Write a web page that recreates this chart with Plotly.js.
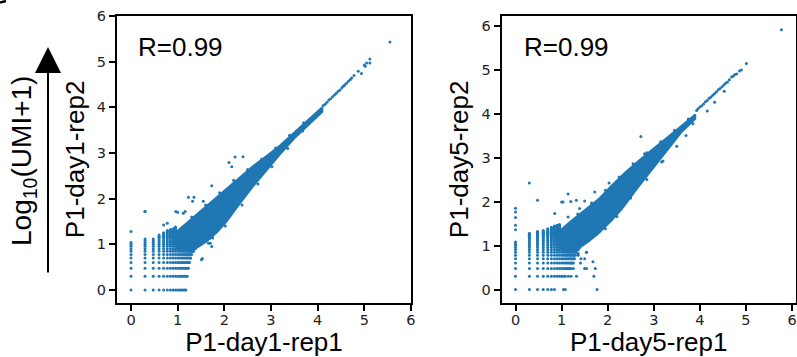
<!DOCTYPE html>
<html>
<head>
<meta charset="utf-8">
<script src="https://cdn.plot.ly/plotly-3.0.1.min.js"></script>
<style>html,body{margin:0;padding:0;background:#fff;}#chart{width:797px;height:357px;}</style>
</head>
<body>
<div id="chart"></div>
<script>
// ---------------- data ----------------
const ticks = [0, 1, 2, 3, 4, 5, 6];
const panelTitlesX = ["P1-day1-rep1", "P1-day5-rep1"];
const panelTitlesY = ["P1-day1-rep2", "P1-day5-rep2"];
const corrLabels = ["R=0.99", "R=0.99"];

// ---- panel 1 : day1 ----
const d1ColX = [0, 0.301, 0.477, 0.602, 0.699, 0.778, 0.845, 0.903, 0.954];
const d1ColY = [
  [0,0.301,0.477,0.602,0.699,0.778,0.845,0.903,0.954,1.0,1.041,1.279],
  [0,0.301,0.477,0.602,0.699,0.778,0.845,0.903,0.954,1.0,1.041,1.079,1.114,1.72],
  [0,0.301,0.477,0.602,0.699,0.778,0.845,0.903,0.954,1.0,1.041,1.079,1.114],
  [0,0.301,0.477,0.602,0.699,0.778,0.845,0.903,0.954,1.0,1.041,1.079,1.114,1.146,1.176,1.204],
  [0,0.301,0.477,0.602,0.699,0.778,0.845,0.903,0.954,1.0,1.041,1.079,1.114,1.146,1.176,1.204,1.230,1.255,1.42],
  [0,0.301,0.477,0.602,0.699,0.778,0.845,0.903,0.954,1.0,1.041,1.079,1.114,1.146,1.176,1.204,1.230,1.255,1.279,1.301,1.46],
  [0,0.301,0.477,0.602,0.699,0.778,0.845,0.903,0.954,1.0,1.041,1.079,1.114,1.146,1.176,1.204,1.230,1.255,1.279,1.301,1.322],
  [0,0.301,0.477,0.602,0.699,0.778,0.845,0.903,0.954,1.0,1.041,1.079,1.114,1.146,1.176,1.204,1.230,1.255,1.279,1.301,1.322,1.342],
  [0,0.301,0.477,0.602,0.699,0.778,0.845,0.903,0.954,1.0,1.041,1.079,1.114,1.146,1.176,1.204,1.230,1.255,1.279,1.301,1.322,1.342,1.362,1.380]
];
const d1RowY = [0, 0.301, 0.477, 0.602, 0.699, 0.778, 0.845, 0.903, 0.954, 1.0];
const d1RowX = [
  [1.0,1.041,1.079,1.114,1.146,1.176],
  [1.0,1.041,1.079,1.114,1.146,1.176,1.204],
  [1.0,1.041,1.079,1.114,1.146,1.176,1.204,1.230],
  [1.0,1.041,1.079,1.114,1.146,1.176,1.204,1.230,1.255],
  [1.0,1.041,1.079,1.114,1.146,1.176,1.204,1.230,1.255,1.279],
  [1.0,1.041,1.079,1.114,1.146,1.176,1.204,1.230,1.255,1.279,1.301],
  [1.0,1.041,1.079,1.114,1.146,1.176,1.204,1.230,1.255,1.279,1.301,1.322,1.342],
  [1.0,1.041,1.079,1.114,1.146,1.176,1.204,1.230,1.255,1.279,1.301,1.322,1.342,1.362,1.380],
  [1.0,1.041,1.079,1.114,1.146,1.176,1.204,1.230,1.255,1.279,1.301,1.322,1.342,1.362,1.380,1.398],
  [1.0,1.041,1.079,1.114,1.146,1.176,1.204,1.230,1.255,1.279,1.301,1.322,1.342,1.362,1.380,1.398,1.415]
];
// dense band: upper edge (left to right) and lower edge (right to left)
const d1BandUpX = [0.94, 1.19, 1.48, 1.76, 2.00, 2.30, 2.60, 2.90, 3.20, 3.50, 3.80, 4.10];
const d1BandUpY = [1.24, 1.46, 1.72, 1.96, 2.18, 2.45, 2.70, 2.93, 3.17, 3.45, 3.72, 4.00];
const d1BandLoX = [4.10, 3.80, 3.50, 3.20, 2.90, 2.60, 2.30, 2.05, 1.84, 1.62, 1.42, 0.94];
const d1BandLoY = [3.90, 3.62, 3.32, 2.98, 2.62, 2.25, 1.85, 1.50, 1.26, 1.06, 0.93, 0.93];
// thin upper part of the diagonal and isolated points
const d1TailX = [4.12,4.16,4.20,4.24,4.28,4.32,4.36,4.40,4.44,4.48,4.52,4.55,4.58,4.62,4.66,4.70,4.73,4.78,4.87,4.94,5.00,5.02,5.05,5.12,5.12,5.55];
const d1TailY = [4.04,4.07,4.11,4.16,4.19,4.23,4.27,4.31,4.35,4.38,4.43,4.46,4.49,4.53,4.57,4.61,4.64,4.70,4.79,4.74,4.93,4.90,4.97,5.06,4.97,5.43];
const d1OutX = [2.10,2.23,2.40,1.73,1.23,1.35,1.32,1.55,0.96,1.12,0.30,1.70,1.73,1.53,2.19,2.46,1.16,1.00,1.66,1.69,1.51,
                1.30,1.60,1.90,2.20,2.50,2.80,3.10,3.40,3.70,1.75,2.02,2.38,2.72,3.02,3.36,3.68,2.16];
const d1OutY = [2.79,2.91,2.92,2.28,2.03,2.03,1.94,1.94,1.72,1.68,1.72,1.02,0.95,0.69,1.77,2.12,1.72,1.70,1.02,1.13,0.66,
                1.60,1.86,2.13,2.40,2.64,2.87,3.11,3.39,3.66,1.14,1.40,1.86,2.32,2.70,3.10,3.48,2.70];

// ---- panel 2 : day5 ----
const d5ColX = [0, 0.301, 0.477, 0.602, 0.699, 0.778, 0.845, 0.903, 0.954];
const d5ColY = [
  [0,0.301,0.477,0.602,0.699,0.778,0.845,0.903,0.954,1.0,1.041,1.079,1.36,1.46,1.64,1.76,1.85],
  [0,0.301,0.477,0.602,0.699,0.778,0.845,0.903,0.954,1.0,1.041,1.079,1.114,1.146,1.176,1.204,1.230,1.255,1.279,2.42],
  [0,0.301,0.477,0.602,0.699,0.778,0.845,0.903,0.954,1.0,1.041,1.079,1.114,1.146,1.176,1.204,1.230,1.255,1.279,1.301,1.322,2.03],
  [0,0.301,0.477,0.602,0.699,0.778,0.845,0.903,0.954,1.0,1.041,1.079,1.114,1.146,1.176,1.204,1.230,1.255,1.279,1.301,1.322,1.342],
  [0,0.301,0.477,0.602,0.699,0.778,0.845,0.903,0.954,1.0,1.041,1.079,1.114,1.146,1.176,1.204,1.230,1.255,1.279,1.301,1.322,1.342,1.362,1.380],
  [0,0.301,0.477,0.602,0.699,0.778,0.845,0.903,0.954,1.0,1.041,1.079,1.114,1.146,1.176,1.204,1.230,1.255,1.279,1.301,1.322,1.342,1.362,1.380,1.398,1.415],
  [0,0.301,0.477,0.602,0.699,0.778,0.845,0.903,0.954,1.0,1.041,1.079,1.114,1.146,1.176,1.204,1.230,1.255,1.279,1.301,1.322,1.342,1.362,1.380,1.398,1.415,1.431,1.447],
  [0.301,0.477,0.602,0.699,0.778,0.845,0.903,0.954,1.0,1.041,1.079,1.114,1.146,1.176,1.204,1.230,1.255,1.279,1.301,1.322,1.342,1.362,1.380,1.398,1.415,1.431,1.447,1.462],
  [0.301,0.477,0.602,0.699,0.778,0.845,0.903,0.954,1.0,1.041,1.079,1.114,1.146,1.176,1.204,1.230,1.255,1.279,1.301,1.322,1.342,1.362,1.380,1.398,1.415,1.431,1.447,1.462,1.477]
];
const d5RowY = [0, 0.301, 0.477, 0.602, 0.699, 0.778, 0.845, 0.903, 0.954, 1.0];
const d5RowX = [
  [1.041,1.079,1.77],
  [1.0,1.041,1.079,1.146,1.204,1.322,1.70],
  [1.0,1.041,1.079,1.114,1.146,1.176,1.204,1.255,1.50,1.73],
  [1.0,1.041,1.079,1.114,1.146,1.176,1.204,1.230,1.255,1.41],
  [1.0,1.041,1.079,1.114,1.146,1.176,1.204,1.230,1.255,1.279,1.42],
  [1.0,1.041,1.079,1.114,1.146,1.176,1.204,1.230,1.255,1.279,1.301,1.36],
  [1.0,1.041,1.079,1.114,1.146,1.176,1.204,1.230,1.255,1.279,1.301,1.322,1.54],
  [1.0,1.041,1.079,1.114,1.146,1.176,1.204,1.230,1.255,1.279,1.301,1.322,1.342,1.362],
  [1.0,1.041,1.079,1.114,1.146,1.176,1.204,1.230,1.255,1.279,1.301,1.322,1.342,1.362,1.380,1.39],
  [1.0,1.041,1.079,1.114,1.146,1.176,1.204,1.230,1.255,1.279,1.301,1.322,1.342,1.362,1.380,1.398]
];
const d5BandUpX = [0.96, 1.20, 1.50, 1.80, 2.10, 2.40, 2.70, 3.00, 3.30, 3.60, 3.90];
const d5BandUpY = [1.33, 1.55, 1.80, 2.05, 2.38, 2.68, 2.95, 3.20, 3.46, 3.72, 3.98];
const d5BandLoX = [3.90, 3.60, 3.30, 3.00, 2.66, 2.30, 2.08, 1.79, 1.57, 1.36, 0.96];
const d5BandLoY = [3.88, 3.58, 3.18, 2.78, 2.33, 1.82, 1.57, 1.27, 1.08, 0.93, 0.93];
const d5TailX = [3.93,3.96,4.00,4.04,4.08,4.12,4.16,4.20,4.24,4.28,4.32,4.36,4.40,4.44,4.48,4.52,4.56,4.60,4.64,4.69,4.72,4.76,4.80,4.86,4.90,5.01,5.77];
const d5TailY = [4.07,4.11,4.15,4.18,4.22,4.27,4.30,4.35,4.38,4.42,4.46,4.50,4.54,4.57,4.61,4.65,4.69,4.72,4.77,4.83,4.85,4.89,4.90,4.97,4.99,5.14,5.91];
const d5OutX = [2.72,3.17,2.80,2.03,1.14,1.00,1.32,1.50,1.72,2.41,0.85,1.14,1.39,1.36,1.50,1.54,1.68,1.39,1.54,4.32,4.16,4.53,3.85,1.03,1.20,
                1.35,1.65,1.95,2.25,2.55,2.85,3.15,3.45,3.75,1.95,2.20,2.50,2.85,3.20,3.50,3.70];
const d5OutY = [3.48,2.90,3.09,2.42,2.17,1.99,2.03,2.01,2.22,2.37,1.73,1.65,1.84,0.82,0.70,0.48,0.63,0.97,0.85,4.26,4.06,4.51,3.77,1.99,2.00,
                1.72,1.97,2.26,2.56,2.86,3.11,3.36,3.62,3.88,1.38,1.66,2.08,2.50,2.92,3.26,3.50];

// ---------------- build traces ----------------
const BLUE = '#1f77b4';
function flattenCols(cx, cy) { const x = [], y = []; cx.forEach((v, i) => cy[i].forEach(w => { x.push(v); y.push(w); })); return [x, y]; }
function flattenRows(ry, rx) { const x = [], y = []; ry.forEach((v, i) => rx[i].forEach(w => { x.push(w); y.push(v); })); return [x, y]; }

function panelTraces(colX, colY, rowY, rowX, upX, upY, loX, loY, tailX, tailY, outX, outY, xa, ya) {
  const c = flattenCols(colX, colY), r = flattenRows(rowY, rowX);
  const px = c[0].concat(r[0], tailX, outX), py = c[1].concat(r[1], tailY, outY);
  return [
    { type: 'scatter', mode: 'lines', x: upX.concat(loX), y: upY.concat(loY), fill: 'toself', fillcolor: BLUE,
      line: { color: BLUE, width: 2 }, xaxis: xa, yaxis: ya, hoverinfo: 'skip', showlegend: false },
    { type: 'scatter', mode: 'markers', x: px, y: py, marker: { color: BLUE, size: 3, line: { width: 0 } },
      xaxis: xa, yaxis: ya, showlegend: false }
  ];
}

const data = panelTraces(d1ColX, d1ColY, d1RowY, d1RowX, d1BandUpX, d1BandUpY, d1BandLoX, d1BandLoY, d1TailX, d1TailY, d1OutX, d1OutY, 'x', 'y')
  .concat(panelTraces(d5ColX, d5ColY, d5RowY, d5RowX, d5BandUpX, d5BandUpY, d5BandLoX, d5BandLoY, d5TailX, d5TailY, d5OutX, d5OutY, 'x2', 'y2'));

const W = 797, H = 357;
const FAMILY = 'Liberation Sans, Arial, sans-serif';
const tickFont = { family: 'DejaVu Sans', size: 14.5, color: '#222' };
const titleFont = { family: FAMILY, size: 26, color: '#000' };
function axis(domain, range, anchor, title, isX) {
  return { domain: domain, range: range, anchor: anchor, tickmode: 'array', tickvals: ticks, ticktext: ticks.map(String),
    showline: true, linecolor: '#000', linewidth: 2, mirror: true, ticks: 'outside', ticklen: 6, tickwidth: 2,
    tickcolor: '#000', showgrid: false, zeroline: false, tickfont: tickFont, automargin: false,
    ticklabelstandoff: isX ? -3 : 0,
    title: { text: title, font: titleFont, standoff: isX ? 8 : 5 } };
}
const yDom = [1 - 302.7 / H, 1 - 16 / H];
const layout = {
  width: W, height: H, margin: { l: 0, r: 0, t: 0, b: 0 }, paper_bgcolor: '#fff', plot_bgcolor: '#fff',
  showlegend: false,
  xaxis: axis([117 / W, 411 / W], [-0.3, 6.001], 'y', panelTitlesX[0], true),
  yaxis: axis(yDom, [-0.28, 6.001], 'x', panelTitlesY[0], false),
  xaxis2: axis([501.7 / W, 795.7 / W], [-0.3, 6.08], 'y2', panelTitlesX[1], true),
  yaxis2: axis(yDom, [-0.3, 6.22], 'x2', panelTitlesY[1], false),
  annotations: [
    { xref: 'paper', yref: 'paper', x: 136 / W, y: 1 - 47.5 / H, xanchor: 'left', yanchor: 'middle', showarrow: false,
      text: corrLabels[0], font: { family: FAMILY, size: 26, color: '#000' } },
    { xref: 'paper', yref: 'paper', x: 521.5 / W, y: 1 - 47.5 / H, xanchor: 'left', yanchor: 'middle', showarrow: false,
      text: corrLabels[1], font: { family: FAMILY, size: 26, color: '#000' } },
    { xref: 'paper', yref: 'paper', x: 24 / W, y: 1 - 161 / H, xanchor: 'center', yanchor: 'middle', showarrow: false,
      textangle: -90, text: 'Log<sub>10</sub>(UMI+1)', font: { family: FAMILY, size: 28, color: '#000' } },
    { xref: 'paper', yref: 'paper', x: 48 / W, y: 1 - 47 / H, axref: 'pixel', ayref: 'pixel', ax: 0, ay: 227,
      text: '', showarrow: true, arrowhead: 2, arrowsize: 2.6, arrowwidth: 2, arrowcolor: '#000' }
  ],
  shapes: [
    { type: 'line', xref: 'paper', yref: 'paper', x0: 0, y0: 1 - 2.5 / H, x1: 6 / W, y1: 1 - 1 / H, line: { color: '#000', width: 2.5 } }
  ]
};
Plotly.newPlot('chart', data, layout, { displayModeBar: false, staticPlot: true });
</script>
</body>
</html>
